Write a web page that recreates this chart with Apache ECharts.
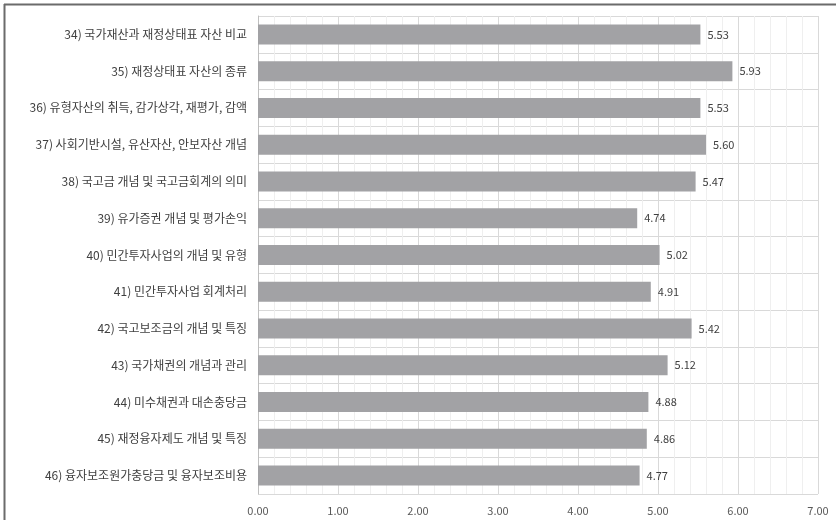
<!DOCTYPE html>
<html><head><meta charset="utf-8">
<script src="https://cdn.jsdelivr.net/npm/echarts@6/dist/echarts.min.js"></script>
<style>html,body{margin:0;padding:0;background:#fff}#c{width:836px;height:520px}</style>
</head><body><div id="c"></div>
<script>
var categories = [
  "34) 국가재산과 재정상태표 자산 비교",
  "35) 재정상태표 자산의 종류",
  "36) 유형자산의 취득, 감가상각, 재평가, 감액",
  "37) 사회기반시설, 유산자산, 안보자산 개념",
  "38) 국고금 개념 및 국고금회계의 의미",
  "39) 유가증권 개념 및 평가손익",
  "40) 민간투자사업의 개념 및 유형",
  "41) 민간투자사업 회계처리",
  "42) 국고보조금의 개념 및 특징",
  "43) 국가채권의 개념과 관리",
  "44) 미수채권과 대손충당금",
  "45) 재정융자제도 개념 및 특징",
  "46) 융자보조원가충당금 및 융자보조비용"
];
var values = [5.53, 5.93, 5.53, 5.60, 5.47, 4.74, 5.02, 4.91, 5.42, 5.12, 4.88, 4.86, 4.77];
var axisMin = 0, axisMax = 7, axisStep = 1;

var font = '"Noto Sans CJK KR", "Noto Sans", sans-serif';
var chart = echarts.init(document.getElementById('c'), null, {renderer: 'canvas'});
chart.setOption({
  animation: false,
  backgroundColor: '#fff',
  grid: {left: 258, right: 18, top: 16, bottom: 26, containLabel: false},
  graphic: [
    {type: 'line', shape: {x1: 4, y1: 4.5, x2: 836, y2: 4.5}, style: {stroke: '#6b6b6b', lineWidth: 2}},
    {type: 'line', shape: {x1: 4.5, y1: 4, x2: 4.5, y2: 520}, style: {stroke: '#6b6b6b', lineWidth: 2}}
  ],
  xAxis: {
    type: 'value', min: axisMin, max: axisMax, interval: axisStep,
    axisLine: {show: false}, axisTick: {show: false},
    axisLabel: {formatter: function(v){return v.toFixed(2);}, color: '#595959', fontSize: 11, fontFamily: font, margin: 11},
    splitLine: {show: true, lineStyle: {color: '#d9d9d9', width: 1}},
    minorTick: {show: false, splitNumber: 5},
    minorSplitLine: {show: true, lineStyle: {color: '#efefef', width: 1}}
  },
  yAxis: {
    type: 'category', data: categories, inverse: true,
    axisLine: {show: true, lineStyle: {color: '#bfbfbf'}},
    axisTick: {show: false},
    axisLabel: {color: '#404040', fontSize: 12, fontFamily: font, margin: 11},
    splitLine: {show: true, lineStyle: {color: '#d9d9d9', width: 1}}
  },
  series: [{
    type: 'bar', data: values, barWidth: 20,
    itemStyle: {color: '#a2a2a5'},
    label: {show: true, position: 'right', distance: 7, formatter: function(p){return p.value.toFixed(2);}, color: '#404040', fontSize: 11, fontFamily: font}
  }]
});
</script></body></html>
